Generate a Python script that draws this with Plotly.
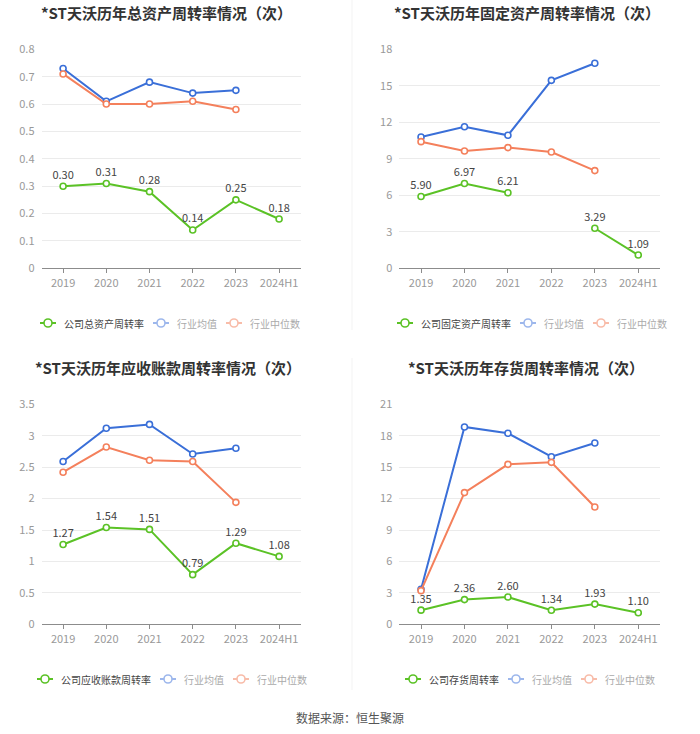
import plotly.graph_objects as go

categories = ["2019", "2020", "2021", "2022", "2023", "2024H1"]

# 总资产周转率
total_company = [0.30, 0.31, 0.28, 0.14, 0.25, 0.18]
total_avg = [0.73, 0.61, 0.68, 0.64, 0.65, None]
total_median = [0.71, 0.60, 0.60, 0.61, 0.58, None]

# 固定资产周转率
fixed_company = [5.90, 6.97, 6.21, None, 3.29, 1.09]
fixed_avg = [10.79, 11.64, 10.93, 15.45, 16.85, None]
fixed_median = [10.41, 9.64, 9.92, 9.56, 8.03, None]

# 应收账款周转率
recv_company = [1.27, 1.54, 1.51, 0.79, 1.29, 1.08]
recv_avg = [2.59, 3.12, 3.18, 2.71, 2.80, None]
recv_median = [2.42, 2.82, 2.61, 2.59, 1.94, None]

# 存货周转率
inv_company = [1.35, 2.36, 2.60, 1.34, 1.93, 1.10]
inv_avg = [3.34, 18.84, 18.23, 16.00, 17.31, None]
inv_median = [3.21, 12.57, 15.27, 15.46, 11.20, None]

GREEN = "#5bc226"
BLUE = "#3a6fd8"
ORANGE = "#f4805c"
BLUE_LIGHT = "#9db7ec"
ORANGE_LIGHT = "#f8bca9"
FONT = "Noto Sans CJK SC"

W, H = 700, 734

panels = [
    {
        "title": "*ST天沃历年总资产周转率情况（次）",
        "company_name": "公司总资产周转率",
        "company": total_company, "avg": total_avg, "median": total_median,
        "ymax": 0.8, "dtick": 0.1,
        "px_x": (41.5, 300.7), "px_y": (268.3, 49.3),
        "title_pos": (166, 12), "legend_pos": (40, 323),
    },
    {
        "title": "*ST天沃历年固定资产周转率情况（次）",
        "company_name": "公司固定资产周转率",
        "company": fixed_company, "avg": fixed_avg, "median": fixed_median,
        "ymax": 18, "dtick": 3,
        "px_x": (399.3, 660.0), "px_y": (268.3, 49.3),
        "title_pos": (527, 12), "legend_pos": (397, 323),
    },
    {
        "title": "*ST天沃历年应收账款周转率情况（次）",
        "company_name": "公司应收账款周转率",
        "company": recv_company, "avg": recv_avg, "median": recv_median,
        "ymax": 3.5, "dtick": 0.5,
        "px_x": (41.5, 300.7), "px_y": (624.3, 404.3),
        "title_pos": (168, 367), "legend_pos": (37, 679),
    },
    {
        "title": "*ST天沃历年存货周转率情况（次）",
        "company_name": "公司存货周转率",
        "company": inv_company, "avg": inv_avg, "median": inv_median,
        "ymax": 21, "dtick": 3,
        "px_x": (399.3, 660.0), "px_y": (624.3, 404.3),
        "title_pos": (526, 367), "legend_pos": (405, 679),
    },
]


def marker(color):
    return {"symbol": "circle", "size": 6, "color": "white",
            "line": {"color": color, "width": 1.6}}


def px(x, y):
    return x / W, 1 - y / H


fig = go.Figure()
layout = {}
annotations = []
shapes = [
    dict(type="line", xref="paper", yref="paper", x0=352 / W, x1=352 / W,
         y0=1, y1=1 - 330 / H, line={"color": "#f3f3f3", "width": 1}),
    dict(type="line", xref="paper", yref="paper", x0=352 / W, x1=352 / W,
         y0=1 - 358 / H, y1=1 - 690 / H, line={"color": "#f3f3f3", "width": 1}),
]

for i, p in enumerate(panels, start=1):
    suffix = "" if i == 1 else str(i)
    xa, ya = f"x{suffix}", f"y{suffix}"

    for vals, color in [(p["avg"], BLUE), (p["median"], ORANGE)]:
        fig.add_trace(go.Scatter(
            x=categories, y=vals, mode="lines+markers",
            line={"color": color, "width": 2}, marker=marker(color),
            xaxis=xa, yaxis=ya, showlegend=False, hoverinfo="skip",
        ))

    fig.add_trace(go.Scatter(
        x=categories, y=p["company"], mode="lines+markers+text",
        line={"color": GREEN, "width": 2}, marker=marker(GREEN),
        text=[f"{v:.2f}" if v is not None else "" for v in p["company"]],
        textposition="top center",
        textfont={"size": 11, "color": "#444", "family": FONT},
        xaxis=xa, yaxis=ya, showlegend=False, hoverinfo="skip",
    ))

    x0, x1 = p["px_x"]
    y0, y1 = p["px_y"]
    layout[f"xaxis{suffix}"] = dict(
        domain=[x0 / W, x1 / W], anchor=ya, type="category",
        range=[-0.5, 5.5], showgrid=False, showline=True,
        linecolor="#8c8c8c", linewidth=1, ticks="outside", ticklen=4,
        tickcolor="#8c8c8c", tickfont={"size": 11, "color": "#999", "family": FONT},
        fixedrange=True,
    )
    layout[f"yaxis{suffix}"] = dict(
        domain=[1 - y0 / H, 1 - y1 / H], anchor=xa,
        range=[0, p["ymax"]], dtick=p["dtick"], tick0=0,
        showgrid=True, gridcolor="#ebebeb", gridwidth=1,
        zeroline=False, showline=False, ticks="", ticklabelstandoff=6,
        tickfont={"size": 11, "color": "#999", "family": FONT},
        fixedrange=True,
    )

    tx, ty = p["title_pos"]
    annotations.append(dict(
        text=f"<b>{p['title']}</b>", x=tx / W, y=1 - ty / H,
        xref="paper", yref="paper", xanchor="center", yanchor="middle",
        showarrow=False, font={"size": 15, "color": "#333", "family": FONT},
    ))

    # hand-drawn legend row
    lx, ly = p["legend_pos"]
    for name, color, txt in [
        (p["company_name"], GREEN, "#444"),
        ("行业均值", BLUE_LIGHT, "#aaa"),
        ("行业中位数", ORANGE_LIGHT, "#aaa"),
    ]:
        ax0, ay = px(lx, ly)
        ax1, _ = px(lx + 16, ly)
        shapes.append(dict(type="line", xref="paper", yref="paper",
                           x0=ax0, x1=ax1, y0=ay, y1=ay,
                           line={"color": color, "width": 2}))
        cx0, cy0 = px(lx + 8 - 4, ly - 4)
        cx1, cy1 = px(lx + 8 + 4, ly + 4)
        shapes.append(dict(type="circle", xref="paper", yref="paper",
                           x0=cx0, x1=cx1, y0=cy1, y1=cy0,
                           fillcolor="white", line={"color": color, "width": 1.6}))
        tx0, _ = px(lx + 22, ly)
        annotations.append(dict(
            text=name, x=tx0, y=ay, xref="paper", yref="paper",
            xanchor="left", yanchor="middle", showarrow=False,
            font={"size": 10, "color": txt, "family": FONT},
        ))
        lx += 22 + 10 * len(name) + 11

annotations.append(dict(
    text="数据来源：恒生聚源", x=350 / W, y=1 - 717 / H,
    xref="paper", yref="paper", xanchor="center", yanchor="middle",
    showarrow=False, font={"size": 12, "color": "#555", "family": FONT},
))

fig.update_layout(
    width=W, height=H,
    margin={"l": 0, "r": 0, "t": 0, "b": 0, "autoexpand": False},
    paper_bgcolor="white", plot_bgcolor="white",
    showlegend=False,
    annotations=annotations,
    shapes=shapes,
    **layout,
)

fig.write_html(
    "out.html",
    config={"displayModeBar": False},
    post_script="document.body.style.margin = '0';",
)
